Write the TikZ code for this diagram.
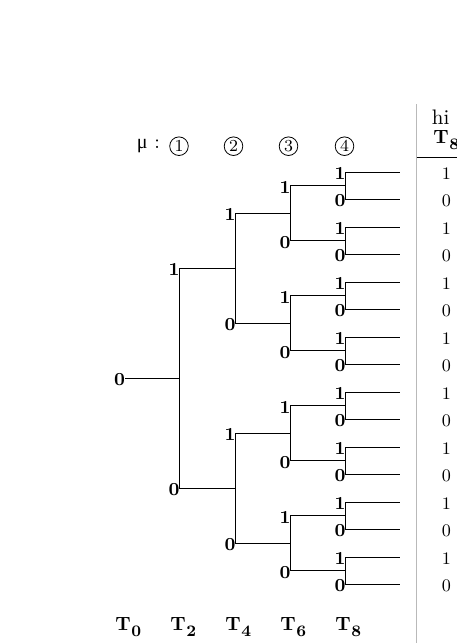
\documentclass[tikz,border=0pt]{standalone}
\usepackage{fontspec}
\newfontfamily\mufont{Liberation Serif}
\newcommand\tlabelx[1]{{\fontsize{9.6}{11}\selectfont\bfseries T\kern0.3pt\raisebox{-3pt}{\fontsize{8}{10}\selectfont\bfseries #1}}}
\begin{document}
\begin{tikzpicture}[x=0.5pt,y=-0.5pt,
  edge/.style={line width=0.5pt},
  lbl/.style={font=\fontsize{9.2}{11}\selectfont\bfseries, inner sep=0pt, anchor=east},
  tval/.style={font=\fontsize{8.8}{10}\selectfont, inner sep=0pt},
  circ/.style={circle, draw, line width=0.4pt, minimum size=9.3pt, inner sep=0pt, font=\fontsize{8.4}{10}\selectfont},
  tlab/.style={inner sep=0pt, anchor=base west},
  hdr/.style={inner sep=0pt, anchor=base west}]
\useasboundingbox (0,0) rectangle (456,643);

% mu row
\node[hdr, font=\fontsize{10}{12}\selectfont] (mu) at (136.5,148.3) {{\mufont μ} :};
\foreach \j/\xx in {1/179,2/233.5,3/288.5,4/344.5}
  \node[circ] (c\j) at (\xx,146.2) {\j};

% root
\coordinate (n0) at (125,378.25);
\node[lbl] (l0) at (125.5,379.5) {0};

% internal nodes and labels
\foreach \k/\xx in {1/179,2/235,3/290,4/345} {
  \pgfmathtruncatemacro{\nn}{2^\k}
  \pgfmathsetmacro{\spn}{2^(4-\k)}
  \foreach \i in {1,...,\nn} {
    \pgfmathsetmacro{\yy}{172+27.5*((\i-1)*\spn+(\spn-1)/2)}
    \pgfmathsetmacro{\ly}{\yy+1.5}
    \pgfmathtruncatemacro{\lab}{mod(\i,2)}
    \coordinate (n\k-\i) at (\xx,\yy);
    \node[lbl] (l\k-\i) at (\xx+0.8,\ly) {\lab};
  }
}

% edges
\draw[edge] (n0) -| (n1-1);
\draw[edge] (n0) -| (n1-2);
\foreach \k in {1,2,3} {
  \pgfmathtruncatemacro{\kk}{\k+1}
  \pgfmathtruncatemacro{\nn}{2^\k}
  \foreach \i in {1,...,\nn} {
    \pgfmathtruncatemacro{\ca}{2*\i-1}
    \pgfmathtruncatemacro{\cb}{2*\i}
    \draw[edge] (n\k-\i) -| (n\kk-\ca);
    \draw[edge] (n\k-\i) -| (n\kk-\cb);
  }
}

% leaves and table values
\foreach \i in {1,...,16} {
  \pgfmathsetmacro{\yy}{172+27.5*(\i-1)}
  \pgfmathsetmacro{\vy}{\yy+1.5}
  \pgfmathtruncatemacro{\lab}{mod(\i,2)}
  \coordinate (e\i) at (400,\yy);
  \draw[edge] (n4-\i) -- (e\i);
  \node[tval] (v\i) at (446.5,\vy) {\lab};
}

% bottom time labels
\foreach \j/\xx in {0/115,2/170,4/225,6/280,8/335}
  \node[tlab] (t\j) at (\xx,630) {\tlabelx{\j}};

% table header and rules
\coordinate (gt) at (416.5,104);
\coordinate (gb) at (416.5,643);
\draw[gray!55, line width=0.5pt] (gt) -- (gb);
\coordinate (hl) at (416.5,157.7);
\coordinate (hr) at (470,157.7);
\draw[line width=0.5pt] (hl) -- (hr);
\node[hdr, font=\fontsize{10.5}{12}\selectfont] (hh) at (431.5,124) {hi};
\node[hdr] (hT) at (433,143) {\tlabelx{8}};
\end{tikzpicture}
\end{document}
